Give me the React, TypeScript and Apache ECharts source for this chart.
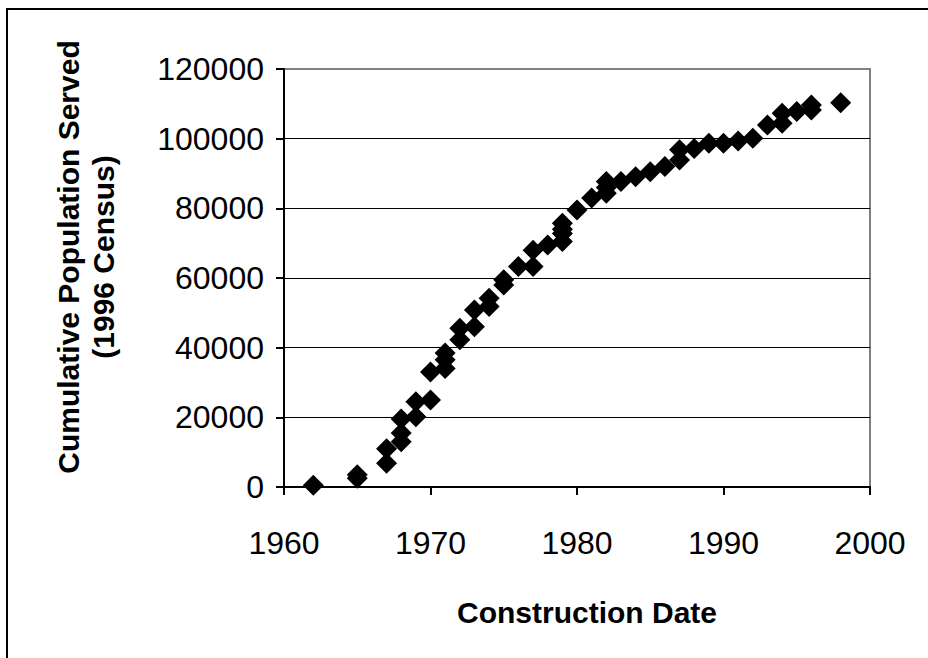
import React, { useEffect, useRef } from "react";
import * as echarts from "echarts";

const years: number[] = [
  1962, 1965, 1965, 1967, 1967, 1968, 1968, 1968, 1969, 1969, 1970, 1970,
  1971, 1971, 1971, 1972, 1972, 1973, 1973, 1974, 1974, 1975, 1975, 1976,
  1977, 1977, 1978, 1979, 1979, 1979, 1979, 1980, 1981, 1982, 1982, 1982,
  1983, 1984, 1985, 1986, 1987, 1987, 1988, 1989, 1990, 1991, 1992, 1993,
  1994, 1994, 1995, 1996, 1996, 1998,
];
const population: number[] = [
  500, 2500, 3500, 6800, 11000, 13000, 15500, 19500, 20200, 24500, 25000, 33000,
  34000, 36500, 38500, 42300, 45600, 46000, 50800, 51800, 54200, 58000, 59500, 63300,
  63300, 68000, 69500, 70500, 72800, 74000, 75700, 79500, 83000, 84300, 86000, 87700,
  87700, 89100, 90500, 92000, 93900, 96800, 97200, 98700, 98700, 99300, 100100, 103900,
  104400, 107300, 107800, 108200, 109700, 110300,
];
const xTicks = { min: 1960, max: 2000, interval: 10 };
const yTicks = { min: 0, max: 120000, interval: 20000 };
const xTitle = "Construction Date";
const yTitleLines = ["Cumulative Population Served", "(1996 Census)"];

const FONT = "'Liberation Sans', Arial, sans-serif";

export default function App() {
  const ref = useRef<HTMLDivElement>(null);
  useEffect(() => {
    if (!ref.current) return;
    const chart = echarts.init(ref.current, null, { renderer: "svg" });
    const data = years.map((y, i) => [y, population[i]]);
    chart.setOption({
      animation: false,
      backgroundColor: "#fff",
      grid: {
        left: 284,
        right: 58,
        top: 69,
        bottom: 171,
        show: true,
        borderColor: "#808080",
        borderWidth: 2,
      },
      xAxis: {
        type: "value",
        min: xTicks.min,
        max: xTicks.max,
        interval: xTicks.interval,
        axisLine: { show: true, onZero: false, lineStyle: { color: "#000", width: 2 } },
        axisTick: { show: true, inside: false, length: 8, lineStyle: { color: "#000", width: 2 } },
        axisLabel: {
          color: "#000",
          fontSize: 32,
          fontFamily: FONT,
          margin: 40,
          formatter: (v: number) => String(v),
        },
        splitLine: { show: false },
      },
      yAxis: {
        type: "value",
        min: yTicks.min,
        max: yTicks.max,
        interval: yTicks.interval,
        axisLine: { show: true, onZero: false, lineStyle: { color: "#000", width: 2 } },
        axisTick: { show: true, inside: false, length: 8, lineStyle: { color: "#000", width: 2 } },
        axisLabel: {
          color: "#000",
          fontSize: 32,
          fontFamily: FONT,
          margin: 20,
          formatter: (v: number) => String(v),
        },
        splitLine: {
          show: true,
          showMinLine: false,
          showMaxLine: false,
          lineStyle: { color: "#000", width: 1 },
        },
      },
      series: [
        {
          type: "scatter",
          data,
          symbol: "diamond",
          symbolSize: 21,
          itemStyle: { color: "#000", opacity: 1 },
        },
      ],
      graphic: [
        {
          type: "rect",
          shape: { x: 7, y: 9, width: 1200, height: 1200 },
          style: { fill: "none", stroke: "#000", lineWidth: 2 },
          silent: true,
        },
        {
          type: "text",
          x: 587,
          y: 612,
          style: {
            text: xTitle,
            font: `bold 30px ${FONT}`,
            fill: "#000",
            textAlign: "center",
            textVerticalAlign: "middle",
          },
        },
        {
          type: "text",
          x: 68,
          y: 257,
          rotation: Math.PI / 2,
          style: {
            text: yTitleLines[0],
            font: `bold 30px ${FONT}`,
            fill: "#000",
            textAlign: "center",
            textVerticalAlign: "middle",
          },
        },
        {
          type: "text",
          x: 103,
          y: 257,
          rotation: Math.PI / 2,
          style: {
            text: yTitleLines[1],
            font: `bold 30px ${FONT}`,
            fill: "#000",
            textAlign: "center",
            textVerticalAlign: "middle",
          },
        },
      ],
    });
    return () => chart.dispose();
  }, []);
  return (
    <div
      ref={ref}
      style={{ position: "absolute", left: 0, top: 0, width: 928, height: 658 }}
    />
  );
}
